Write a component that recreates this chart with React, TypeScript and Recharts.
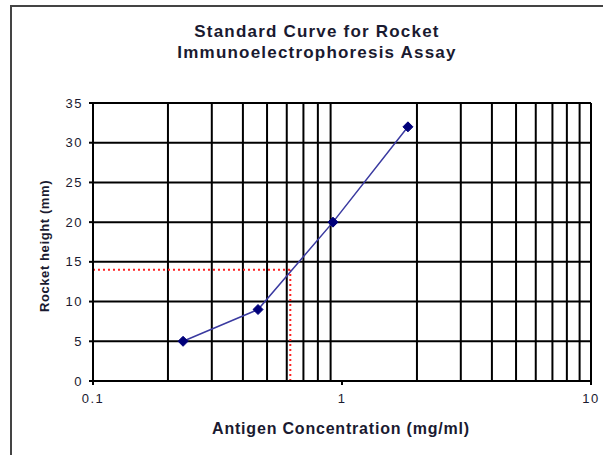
import {
  ComposedChart,
  Line,
  XAxis,
  YAxis,
  CartesianGrid,
  ReferenceLine,
} from 'recharts';

// antigen concentration (mg/ml) vs rocket height (mm)
const concentration = [0.23, 0.46, 0.92, 1.84];
const rocketHeight = [5, 9, 20, 32];

const xTicks = [0.1, 1, 10];
const yTicks = [0, 5, 10, 15, 20, 25, 30, 35];
const minorGrid = [0.2, 0.3, 0.4, 0.5, 0.6, 0.7, 0.8, 0.9, 2, 3, 4, 5, 6, 7, 8, 9, 10];

// unknown sample
const unknownHeight = 14;
const unknownConc = 0.62;

const data = concentration.map((x, i) => ({ x, y: rocketHeight[i] }));

const font = '"Liberation Sans", Arial, sans-serif';
const textColor = '#1a1a30';
const lineColor = '#3a3aa0';
const markColor = '#00007a';

const tickStyle = { fill: textColor, fontSize: 13, fontFamily: font, letterSpacing: 1.5 };

const Diamond = (props: any) => {
  const { cx, cy } = props;
  if (cx == null || cy == null) return null;
  const r = 5;
  return (
    <polygon
      points={`${cx},${cy - r} ${cx + r},${cy} ${cx},${cy + r} ${cx - r},${cy}`}
      fill={markColor}
      stroke={markColor}
    />
  );
};

export default function App() {
  return (
    <div
      style={{
        position: 'absolute',
        left: 0,
        top: 0,
        width: 603,
        height: 455,
        overflow: 'hidden',
        background: '#fff',
        fontFamily: font,
      }}
    >
      <div
        style={{
          position: 'absolute',
          left: 10,
          top: 5,
          width: 620,
          height: 480,
          border: '2px solid #444',
        }}
      />
      <div
        style={{
          position: 'absolute',
          left: 0,
          width: 634,
          top: 21,
          textAlign: 'center',
          fontWeight: 'bold',
          fontSize: 17,
          letterSpacing: 1.2,
          lineHeight: '21px',
          color: textColor,
        }}
      >
        Standard Curve for Rocket
        <br />
        Immunoelectrophoresis Assay
      </div>
      <ComposedChart
        width={603}
        height={455}
        data={data}
        margin={{ top: 103, right: 12, bottom: 44, left: 43 }}
        style={{ position: 'absolute', left: 0, top: 0 }}
      >
        <CartesianGrid vertical={false} stroke="#000" strokeWidth={2} />
        {minorGrid.map((v) => (
          <ReferenceLine key={v} x={v} stroke="#000" strokeWidth={2} />
        ))}
        <XAxis
          dataKey="x"
          type="number"
          scale="log"
          domain={[0.1, 10]}
          ticks={xTicks}
          allowDataOverflow
          stroke="#000"
          strokeWidth={2}
          tickSize={4}
          tickMargin={9}
          tick={tickStyle}
          height={30}
        />
        <YAxis
          type="number"
          domain={[0, 35]}
          ticks={yTicks}
          stroke="#000"
          strokeWidth={2}
          tickSize={4}
          tickMargin={6}
          tick={tickStyle}
          width={50}
        />
        <ReferenceLine
          segment={[
            { x: 0.1, y: unknownHeight },
            { x: unknownConc, y: unknownHeight },
          ]}
          stroke="#ff2020"
          strokeWidth={2}
          strokeDasharray="2 3"
        />
        <ReferenceLine
          segment={[
            { x: unknownConc, y: 0 },
            { x: unknownConc, y: unknownHeight },
          ]}
          stroke="#ff2020"
          strokeWidth={2}
          strokeDasharray="2 3"
        />
        <Line
          dataKey="y"
          type="linear"
          stroke={lineColor}
          strokeWidth={1.5}
          dot={<Diamond />}
          activeDot={false}
          isAnimationActive={false}
        />
      </ComposedChart>
      <div
        style={{
          position: 'absolute',
          left: 0,
          width: 682,
          top: 420,
          textAlign: 'center',
          fontWeight: 'bold',
          fontSize: 16,
          letterSpacing: 0.8,
          color: textColor,
        }}
      >
        Antigen Concentration (mg/ml)
      </div>
      <div
        style={{
          position: 'absolute',
          left: 44,
          top: 246,
          transform: 'translate(-50%, -50%) rotate(-90deg)',
          whiteSpace: 'nowrap',
          fontWeight: 'bold',
          fontSize: 13,
          letterSpacing: 0.6,
          color: textColor,
        }}
      >
        Rocket height (mm)
      </div>
    </div>
  );
}
